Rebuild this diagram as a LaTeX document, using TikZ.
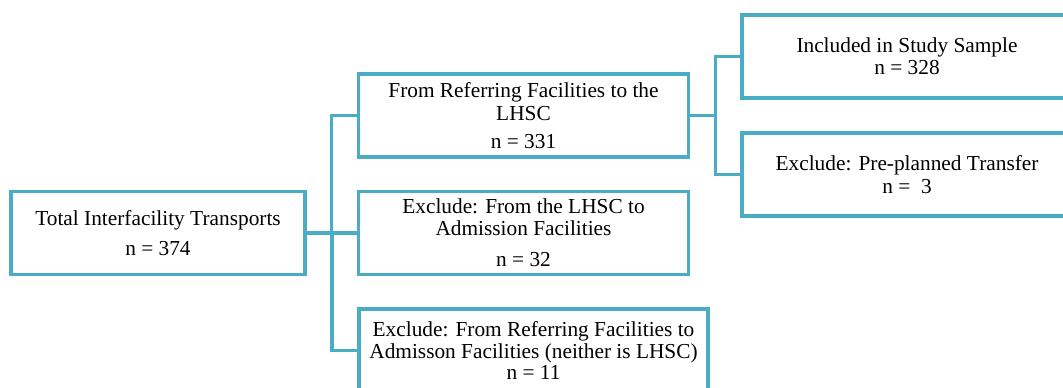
\documentclass[tikz,border=0pt]{standalone}
\usepackage{fontspec}
\setmainfont{Liberation Serif}
\usetikzlibrary{calc}
\definecolor{boxblue}{RGB}{75,172,198}
\begin{document}
\begin{tikzpicture}[x=0.75pt,y=-0.75pt]
        \useasboundingbox (0,0) rectangle (1063,387);
        \begin{scope}[every node/.style={rectangle,draw=boxblue,line width=2.3pt,fill=white,
                minimum height=62.25pt,minimum width=247.5pt,inner sep=2pt,align=center,
                font=\fontsize{16}{16}\selectfont}]
            \node (total) [minimum width=220.5pt] at (158,233) {Total Interfacility Transports\\[6.5pt]n = 374};
            \node (toLHSC) at (523.5,115.5) {From Referring Facilities to the\\[1pt]LHSC\\[5pt]n = 331};
            \node (fromLHSC) at (523.5,233) {Exclude: From the LHSC to\\Admission Facilities\\[7.5pt]n = 32};
            \node (neither) [minimum width=261.75pt] at (533.5,350.5) {Exclude: From Referring Facilities to\\Admisson Facilities (neither is LHSC)\\n = 11};
            \node (included) at (907,56.5) {Included in Study Sample\\[0.5pt]n = 328};
            \node (preplanned) at (907,174.5) {Exclude: Pre-planned Transfer\\[1pt]n = \ 3};
        \end{scope}
        \begin{scope}[every edge/.style={draw=boxblue,line width=2.3pt,
                to path={(\tikztostart) -| ($(\tikztostart)!.5!(\tikztotarget)$) |- (\tikztotarget)}}]
            \path
                (total.east) edge (toLHSC.west)
                (total.east) edge (fromLHSC.west)
                (total.east) edge (neither.west)
                (toLHSC.east) edge (included.west)
                (toLHSC.east) edge (preplanned.west);
        \end{scope}
    \end{tikzpicture}
\end{document}
